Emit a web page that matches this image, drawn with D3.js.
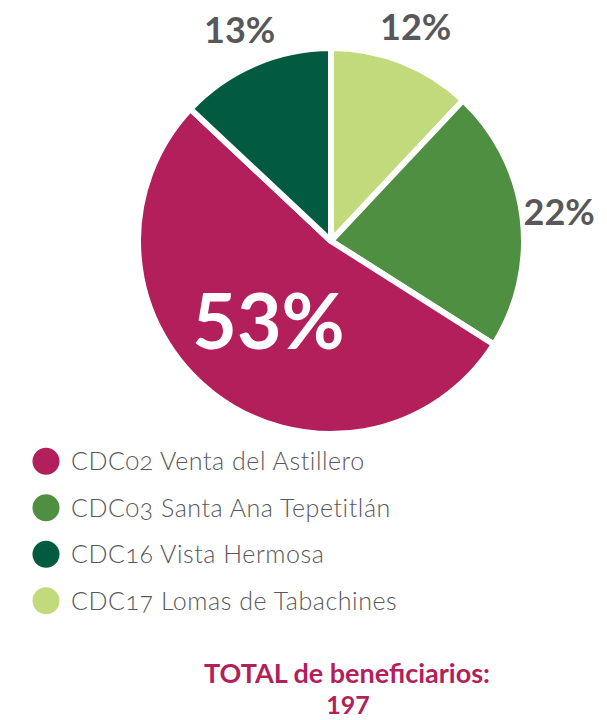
<!DOCTYPE html>
<html>
<head>
<meta charset="utf-8">
<script src="https://cdn.jsdelivr.net/npm/d3@7"></script>
<style>
  body { margin: 0; background: #fff; }
  text { font-family: Lato, "Open Sans", sans-serif; }
</style>
</head>
<body>
<div id="content"></div>
<script>
// chart data
const categories = ["CDC02 Venta del Astillero", "CDC03 Santa Ana Tepetitlán", "CDC16 Vista Hermosa", "CDC17 Lomas de Tabachines"];
const values = [53, 22, 13, 12];
const colors = ["#b21f5a", "#4e8f41", "#025a40", "#c1db7c"];
const totalLabel = "TOTAL de beneficiarios:";
const totalValue = 197;

// order drawn clockwise from 12 o'clock
const drawOrder = [3, 1, 0, 2];

const width = 607;
const height = 720;
const cx = 331, cy = 241;
const radius = 193;

const svg = d3.select("#content").append("svg")
  .attr("width", width)
  .attr("height", height);

const slices = drawOrder.map(i => ({ name: categories[i], value: values[i], color: colors[i] }));

const pie = d3.pie()
  .value(d => d.value)
  .sort(null);

const arcs = pie(slices);

const arc = d3.arc().innerRadius(0).outerRadius(radius);
const labelArc = d3.arc().innerRadius(230).outerRadius(230);
const bigArc = d3.arc().innerRadius(102).outerRadius(102);

const g = svg.append("g").attr("transform", `translate(${cx},${cy})`);

g.selectAll("path")
  .data(arcs)
  .enter()
  .append("path")
  .attr("d", arc)
  .attr("fill", d => d.data.color)
  .attr("stroke", "#fff")
  .attr("stroke-width", 6)
  .attr("stroke-linejoin", "round");

// percent labels
g.selectAll("text.pct")
  .data(arcs)
  .enter()
  .append("text")
  .attr("class", "pct")
  .attr("transform", d => {
    const big = d.data.value > 50;
    const p = big ? bigArc.centroid(d) : labelArc.centroid(d);
    return `translate(${p[0]},${p[1]})`;
  })
  .attr("text-anchor", "middle")
  .attr("dy", "0.36em")
  .attr("font-weight", 700)
  .attr("font-size", d => d.data.value > 50 ? 77 : 36)
  .attr("fill", d => d.data.value > 50 ? "#fff" : "#58585a")
  .text(d => d.data.value + "%");

// legend
const legendY = d3.scaleBand()
  .domain(categories)
  .range([438, 624]);

const legend = svg.append("g");

const item = legend.selectAll("g")
  .data(categories)
  .enter()
  .append("g")
  .attr("transform", d => `translate(0,${legendY(d) + legendY.bandwidth() / 2})`);

item.append("circle")
  .attr("cx", 46)
  .attr("r", 13.5)
  .attr("fill", (d, i) => colors[i]);

item.append("text")
  .attr("x", 71)
  .attr("dy", "0.35em")
  .attr("font-size", 25)
  .attr("font-weight", 300)
  .attr("letter-spacing", 0.55)
  .attr("fill", "#58585a")
  .style("font-variant-numeric", "oldstyle-nums")
  .text(d => d);

// total
svg.append("text")
  .attr("x", 347)
  .attr("y", 683)
  .attr("text-anchor", "middle")
  .attr("font-size", 27)
  .attr("font-weight", 700)
  .attr("fill", "#b21f5a")
  .text(totalLabel);

svg.append("text")
  .attr("x", 348)
  .attr("y", 714)
  .attr("text-anchor", "middle")
  .attr("font-size", 25)
  .attr("font-weight", 700)
  .attr("fill", "#b21f5a")
  .text(totalValue);
</script>
</body>
</html>
